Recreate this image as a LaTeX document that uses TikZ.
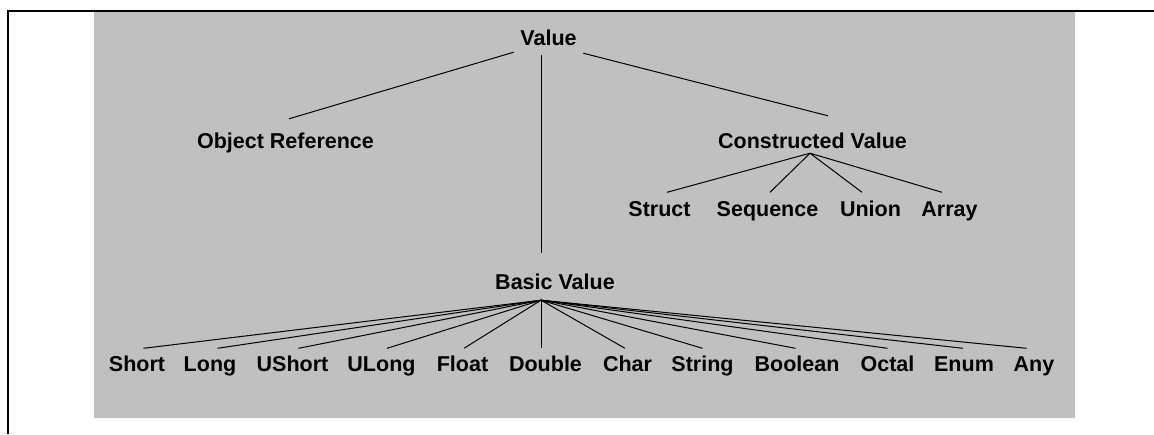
\documentclass[tikz,border=0pt]{standalone}
\usepackage{fontspec}
\setmainfont{Liberation Sans}
\definecolor{panelgrey}{HTML}{C0C0C0}

\begin{document}
\begin{tikzpicture}[x=1pt,y=-1pt,
    every node/.style={font=\fontsize{21.5}{21.5}\selectfont\bfseries,
      inner xsep=6.5pt, inner ysep=0pt, text height=15.5pt, text depth=0pt, anchor=base},
    link/.style={line width=1pt, black}]

    \useasboundingbox (0,0) rectangle (1154,434);
    \fill[panelgrey] (94,12) rectangle (1075,418); %grey panel
    \draw[line width=2pt] (7,11) -- (1154,11); %top rule
    \draw[line width=2pt] (8,10) -- (8,434); %left rule

    \node (value) at (548.5,45) {Value};
    \node (objref) at (285.5,148) {Object Reference};
    \node (constr) at (812.5,148) {Constructed Value};
    \node (basic) at (555,289.5) {Basic Value};

    \coordinate (cvfan) at ([xshift=-2.5pt,yshift=-5pt]constr.south);
    \coordinate (bvfan) at ([xshift=-14pt,yshift=-10.5pt]basic.south);

    \draw[link] ([yshift=-7pt]value.south west) -- ([xshift=3.5pt,yshift=13.5pt]objref.north);
    \draw[link] ([yshift=-8pt]value.south east) -- ([xshift=15.5pt,yshift=16.5pt]constr.north);
    \draw[link] ([xshift=-7.5pt,yshift=-10pt]value.south) -- ([xshift=-14pt,yshift=21pt]basic.north);

    \foreach \name/\txt/\xpos/\dx in {struct/Struct/659.5/7.5, sequence/Sequence/767.5/2.5,
        union/Union/870.5/-8.5, array/Array/949.5/-7.5} {
      \node (\name) at (\xpos,216.5) {\txt};
      \draw[link] (cvfan) -- ([xshift=\dx pt,yshift=8.5pt]\name.north);
    }

    \foreach \name/\txt/\xpos/\dx in {short/Short/137/6.5, long/Long/210/7.5,
        ushort/UShort/292.5/6, ulong/ULong/381.5/5.5, float/Float/462.5/1.5,
        double/Double/545.5/-4.5, char/Char/627.5/-2.5, string/String/702.5/0,
        boolean/Boolean/797/-1.5, octal/Octal/887.5/0, enum/Enum/964/-1, any/Any/1034/-7.5} {
      \node (\name) at (\xpos,371.5) {\txt};
      \draw[link] (bvfan) -- ([xshift=\dx pt,yshift=7.5pt]\name.north);
    }
  \end{tikzpicture}
\end{document}
